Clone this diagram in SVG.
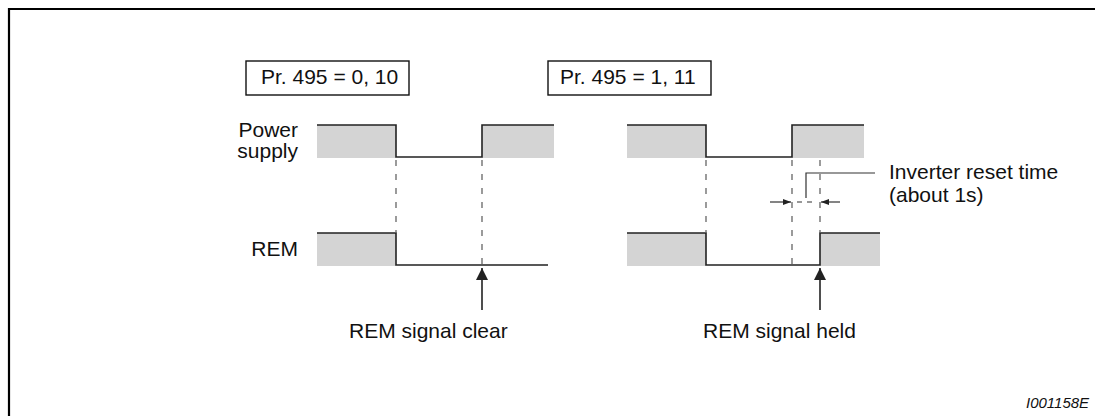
<svg xmlns="http://www.w3.org/2000/svg" width="1095" height="416" viewBox="0 0 1095 416">
<style>
text{font-family:"Liberation Sans",Arial,sans-serif;font-size:21px;fill:#111}
.box{fill:none;stroke:#111;stroke-width:1.4}
.gray{fill:#d4d4d4;stroke:none}
.wave{fill:none;stroke:#222;stroke-width:1.6}
.dash{fill:none;stroke:#666;stroke-width:1.3;stroke-dasharray:6 8}
.thin{fill:none;stroke:#333;stroke-width:1.2}
.big{fill:none;stroke:#222;stroke-width:1.6}
</style>
<defs>
<marker id="ah" viewBox="0 0 12 12" refX="12" refY="6" markerWidth="12" markerHeight="12" markerUnits="userSpaceOnUse" orient="auto">
<path d="M0,0 L12,6 L0,12 Z" fill="#222"/>
</marker>
<marker id="sm" viewBox="0 0 8 6" refX="8" refY="3" markerWidth="8" markerHeight="6" markerUnits="userSpaceOnUse" orient="auto">
<path d="M0,0 L8,3 L0,6 Z" fill="#222"/>
</marker>
</defs>
<rect width="1095" height="416" fill="#fff"/>
<path d="M9,416 V9 H1095" fill="none" stroke="#000" stroke-width="2.2"/>

<g id="box1"><rect class="box" x="246" y="61" width="163" height="34"/><text x="261" y="84">Pr. 495 = 0, 10</text></g>
<g id="box2"><rect class="box" x="548" y="61" width="163" height="34"/><text x="560" y="84">Pr. 495 = 1, 11</text></g>

<g id="label-power"><text x="298" y="137" text-anchor="end">Power</text><text x="298" y="158" text-anchor="end">supply</text></g>
<g id="label-rem"><text x="298" y="256" text-anchor="end">REM</text></g>

<g id="power-left">
<rect class="gray" x="317" y="125" width="79" height="33"/>
<rect class="gray" x="482" y="125" width="72" height="33"/>
<path class="wave" d="M317,125 H396 V157 H482 V125 H554"/>
</g>
<g id="rem-left">
<rect class="gray" x="317" y="233" width="79" height="33"/>
<path class="wave" d="M317,233 H396 V265 H548"/>
</g>
<g id="power-right">
<rect class="gray" x="627" y="125" width="79" height="33"/>
<rect class="gray" x="792" y="125" width="72" height="33"/>
<path class="wave" d="M627,125 H706 V157 H792 V125 H864"/>
</g>
<g id="rem-right">
<rect class="gray" x="627" y="233" width="79" height="33"/>
<rect class="gray" x="820" y="233" width="60" height="33"/>
<path class="wave" d="M627,233 H706 V265 H820 V233 H880"/>
</g>

<g id="connectors">
<line class="dash" x1="396" y1="160" x2="396" y2="233"/>
<line class="dash" x1="482" y1="160" x2="482" y2="265"/>
<line class="dash" x1="706" y1="160" x2="706" y2="233"/>
<line class="dash" x1="792" y1="160" x2="792" y2="265"/>
<line class="dash" x1="820" y1="160" x2="820" y2="233"/>
<line class="big" x1="482" y1="310" x2="482" y2="268" marker-end="url(#ah)"/>
<line class="big" x1="820" y1="310" x2="820" y2="268" marker-end="url(#ah)"/>
<line class="thin" x1="770" y1="202" x2="791" y2="202" marker-end="url(#sm)"/>
<line class="thin" x1="840" y1="202" x2="821" y2="202" marker-end="url(#sm)"/>
<line class="thin" x1="797" y1="202" x2="816" y2="202" stroke-dasharray="5 5"/>
<path class="thin" d="M806,198 V173 H875"/>
</g>

<g id="label-reset"><text x="889" y="179">Inverter reset time</text><text x="889" y="202">(about 1s)</text></g>
<g id="label-clear"><text x="349" y="338">REM signal clear</text></g>
<g id="label-held"><text x="703" y="338">REM signal held</text></g>
<g id="figid"><text x="1026" y="408" style="font-size:15px;font-style:italic">I001158E</text></g>
</svg>
